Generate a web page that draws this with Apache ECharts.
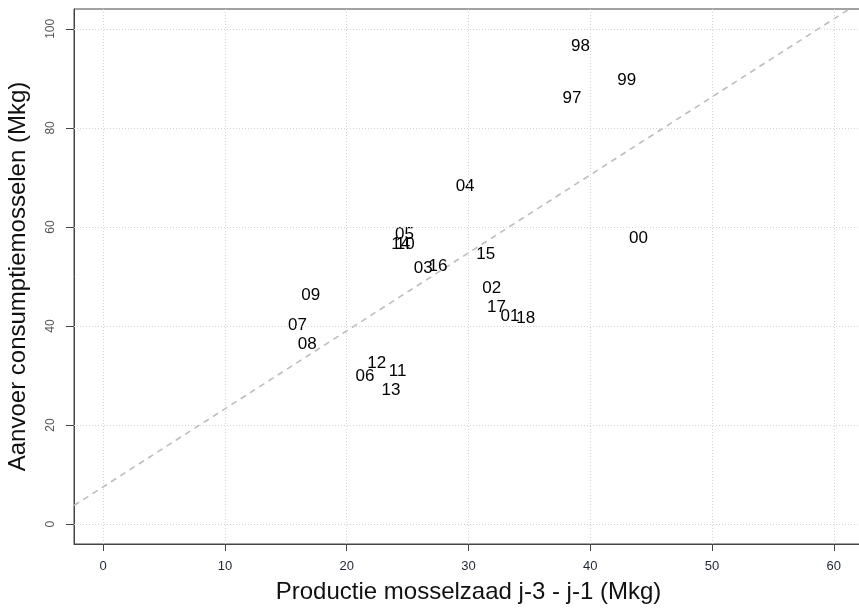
<!DOCTYPE html>
<html>
<head>
<meta charset="utf-8">
<script src="https://cdn.jsdelivr.net/npm/echarts@6/dist/echarts.min.js"></script>
<style>
html,body{margin:0;padding:0;background:#fff;}
#chart{width:859px;height:608px;}
</style>
</head>
<body>
<div id="chart"></div>
<script>
// Data
var yearLabels = ['97','98','99','00','01','02','03','04','05','06','07','08','09','14','10','11','12','13','15','16','17','18'];
var xValues   = [38.5, 39.2, 43.0, 43.96, 33.4, 31.9, 26.28, 29.72, 24.74, 21.5, 15.95, 16.75, 17.05, 24.43, 24.8, 24.18, 22.46, 23.63, 31.42, 27.5, 32.3, 34.7];
var yValues   = [86.0, 96.5, 89.7, 57.8, 42.0, 47.7, 51.6, 68.3, 58.5, 29.8, 40.1, 36.4, 46.2, 56.5, 56.5, 30.8, 32.4, 27.1, 54.5, 52.0, 43.7, 41.5];

// Axis ticks
var xTicks = [0, 10, 20, 30, 40, 50, 60];
var yTicks = [0, 20, 40, 60, 80, 100];

// Regression line
var lineIntercept = 7.55;
var lineSlope = 1.574;

var xMin = -2.4, xMax = 62.4, yMin = -4, yMax = 104;

var pts = yearLabels.map(function (n, i) { return { name: n, value: [xValues[i], yValues[i]] }; });
var regLine = [[xMin, lineIntercept + lineSlope * xMin], [xMax, lineIntercept + lineSlope * xMax]];

var gridLines = xTicks.map(function (v) { return { xAxis: v }; })
  .concat(yTicks.map(function (v) { return { yAxis: v }; }));

var chart = echarts.init(document.getElementById('chart'), null, { renderer: 'canvas' });
chart.setOption({
  animation: false,
  backgroundColor: '#ffffff',
  grid: {
    left: 74, top: 9, width: 789, height: 535,
    containLabel: false,
    outerBoundsMode: 'none',
    show: true, borderColor: '#444', borderWidth: 1, backgroundColor: 'transparent'
  },
  xAxis: {
    type: 'value', min: xMin, max: xMax,
    name: 'Productie mosselzaad j-3 - j-1 (Mkg)',
    nameLocation: 'middle', nameGap: 36,
    nameTextStyle: { fontFamily: 'Liberation Sans, Arial, sans-serif', fontSize: 24, color: '#111' },
    axisLine: { show: true, onZero: false, lineStyle: { color: '#444', width: 1 } },
    axisTick: { show: true, inside: false, length: 7, customValues: xTicks, lineStyle: { color: '#444' } },
    axisLabel: { customValues: xTicks, margin: 16, fontSize: 13, color: '#1e2535',
      fontFamily: 'Liberation Sans Narrow, Liberation Sans, sans-serif' },
    splitLine: { show: false }
  },
  yAxis: {
    type: 'value', min: yMin, max: yMax,
    name: 'Aanvoer consumptiemosselen (Mkg)',
    nameLocation: 'middle', nameGap: 44,
    nameTextStyle: { fontFamily: 'Liberation Sans, Arial, sans-serif', fontSize: 24, color: '#111' },
    axisLine: { show: true, onZero: false, lineStyle: { color: '#444', width: 1 } },
    axisTick: { show: true, inside: false, length: 8, customValues: yTicks, lineStyle: { color: '#444' } },
    axisLabel: { customValues: yTicks, rotate: 90, margin: 17, fontSize: 12, color: '#555',
      fontFamily: 'Liberation Sans Narrow, Liberation Sans, sans-serif' },
    splitLine: { show: false }
  },
  series: [
    {
      type: 'line',
      data: regLine,
      showSymbol: false, symbol: 'none', silent: true,
      lineStyle: { color: '#bdbdbd', width: 1.6, type: [6, 5] },
      clip: true,
      markLine: {
        silent: true, symbol: 'none', label: { show: false },
        lineStyle: { color: '#d4d4d4', width: 1, type: [1, 2] },
        data: gridLines
      },
      z: 2
    },
    {
      type: 'scatter',
      data: pts,
      symbolSize: 0,
      itemStyle: { color: '#000', opacity: 1 },
      label: {
        show: true, position: 'inside', offset: [0, 1.5],
        formatter: function (p) { return p.name; },
        fontFamily: 'Liberation Sans, Arial, sans-serif', fontSize: 17, color: '#000',
        opacity: 1, textBorderWidth: 0
      },
      labelLayout: { hideOverlap: false },
      z: 3
    }
  ]
});
</script>
</body>
</html>
